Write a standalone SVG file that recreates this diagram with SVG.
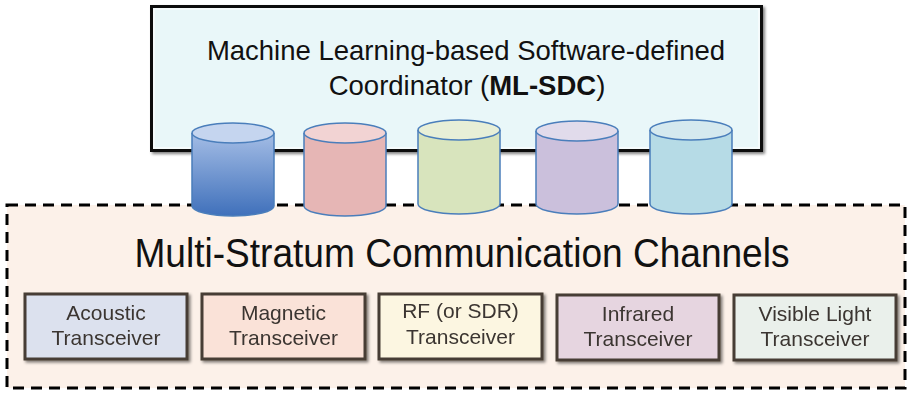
<svg xmlns="http://www.w3.org/2000/svg" width="908" height="395" viewBox="0 0 908 395">
  <defs>
    <linearGradient id="cylBlue" x1="0" y1="0" x2="0" y2="1">
      <stop offset="0" stop-color="#a4bde5"/>
      <stop offset="1" stop-color="#3f70bb"/>
    </linearGradient>
    <filter id="shadow" x="-5%" y="-5%" width="110%" height="115%">
      <feGaussianBlur in="SourceAlpha" stdDeviation="1.5"/>
      <feOffset dx="2" dy="2" result="b"/>
      <feComponentTransfer><feFuncA type="linear" slope="0.5"/></feComponentTransfer>
      <feMerge><feMergeNode/><feMergeNode in="SourceGraphic"/></feMerge>
    </filter>
  </defs>
  <style>
    .sans { font-family: "Liberation Sans", Arial, sans-serif; }
    .title { font-size: 27.5px; fill: #111; }
    .big { font-size: 40px; fill: #111; }
    .tx { font-size: 21px; fill: #3b3530; text-anchor: middle; }
    .tbox { stroke: #463d35; stroke-width: 3; }
    .cyl { stroke: #4a7ebb; stroke-width: 1.5; }
  </style>

  <rect width="908" height="395" fill="#ffffff"/>

  <!-- coordinator box -->
  <g id="coordinator">
    <rect x="151.5" y="6.5" width="610" height="144" fill="#e9f7f9" stroke="#111" stroke-width="3" filter="url(#shadow)"/>
    <rect x="154" y="9" width="605" height="139" fill="none" stroke="#ffffff" stroke-opacity="0.7" stroke-width="1.5"/>
    <text class="sans title" x="466" y="60" text-anchor="middle">Machine Learning-based Software-defined</text>
    <text class="sans title" x="467" y="95" text-anchor="middle">Coordinator (<tspan font-weight="bold">ML-SDC</tspan>)</text>
  </g>

  <!-- channel container -->
  <g id="channels">
    <rect x="7" y="205" width="898" height="183" fill="#fcf1e9" stroke="#000" stroke-width="3" stroke-dasharray="11 7"/>
    <text class="sans big" x="462" y="267" text-anchor="middle" textLength="655" lengthAdjust="spacingAndGlyphs">Multi-Stratum Communication Channels</text>
  </g>

  <!-- data stores -->
  <g id="store-1">
    <path class="cyl" d="M192,133 V206 A41,10 0 0 0 274,206 V133" fill="url(#cylBlue)"/>
    <ellipse class="cyl" cx="233" cy="133" rx="41" ry="10" fill="#c5d5ef"/>
  </g>
  <g id="store-2">
    <path class="cyl" d="M304,133 V206 A41,10 0 0 0 386,206 V133" fill="#e6b6b5"/>
    <ellipse class="cyl" cx="345" cy="133" rx="41" ry="10" fill="#f2d3d3"/>
  </g>
  <g id="store-3">
    <path class="cyl" d="M418,130 V204 A41,10 0 0 0 500,204 V130" fill="#d8e4bd"/>
    <ellipse class="cyl" cx="459" cy="130" rx="41" ry="10" fill="#e8efd7"/>
  </g>
  <g id="store-4">
    <path class="cyl" d="M536,131 V204 A41,10 0 0 0 618,204 V131" fill="#cbc0dc"/>
    <ellipse class="cyl" cx="577" cy="131" rx="41" ry="10" fill="#e1dbeb"/>
  </g>
  <g id="store-5">
    <path class="cyl" d="M650,130 V204 A41,10 0 0 0 732,204 V130" fill="#b6dbe6"/>
    <ellipse class="cyl" cx="691" cy="130" rx="41" ry="10" fill="#d5e9ef"/>
  </g>

  <!-- transceivers -->
  <g id="acoustic" filter="url(#shadow)">
    <rect class="tbox" x="25" y="294" width="162" height="65" fill="#dce1ee"/>
    <text class="sans tx" x="106" y="320">Acoustic</text>
    <text class="sans tx" x="106" y="345">Transceiver</text>
  </g>
  <g id="magnetic" filter="url(#shadow)">
    <rect class="tbox" x="202" y="294" width="163" height="65" fill="#fae2d8"/>
    <text class="sans tx" x="283.5" y="320">Magnetic</text>
    <text class="sans tx" x="283.5" y="345">Transceiver</text>
  </g>
  <g id="rf" filter="url(#shadow)">
    <rect class="tbox" x="379" y="294" width="163" height="65" fill="#fcf6e1"/>
    <text class="sans tx" x="460.5" y="318" font-size="17">RF (or SDR)</text>
    <text class="sans tx" x="460.5" y="344">Transceiver</text>
  </g>
  <g id="infrared" filter="url(#shadow)">
    <rect class="tbox" x="557" y="295" width="162" height="65" fill="#e6d5e0"/>
    <text class="sans tx" x="638" y="321">Infrared</text>
    <text class="sans tx" x="638" y="346">Transceiver</text>
  </g>
  <g id="visible-light" filter="url(#shadow)">
    <rect class="tbox" x="734" y="295" width="162" height="65" fill="#eaf0eb"/>
    <text class="sans tx" x="815" y="321">Visible Light</text>
    <text class="sans tx" x="815" y="346">Transceiver</text>
  </g>
</svg>
